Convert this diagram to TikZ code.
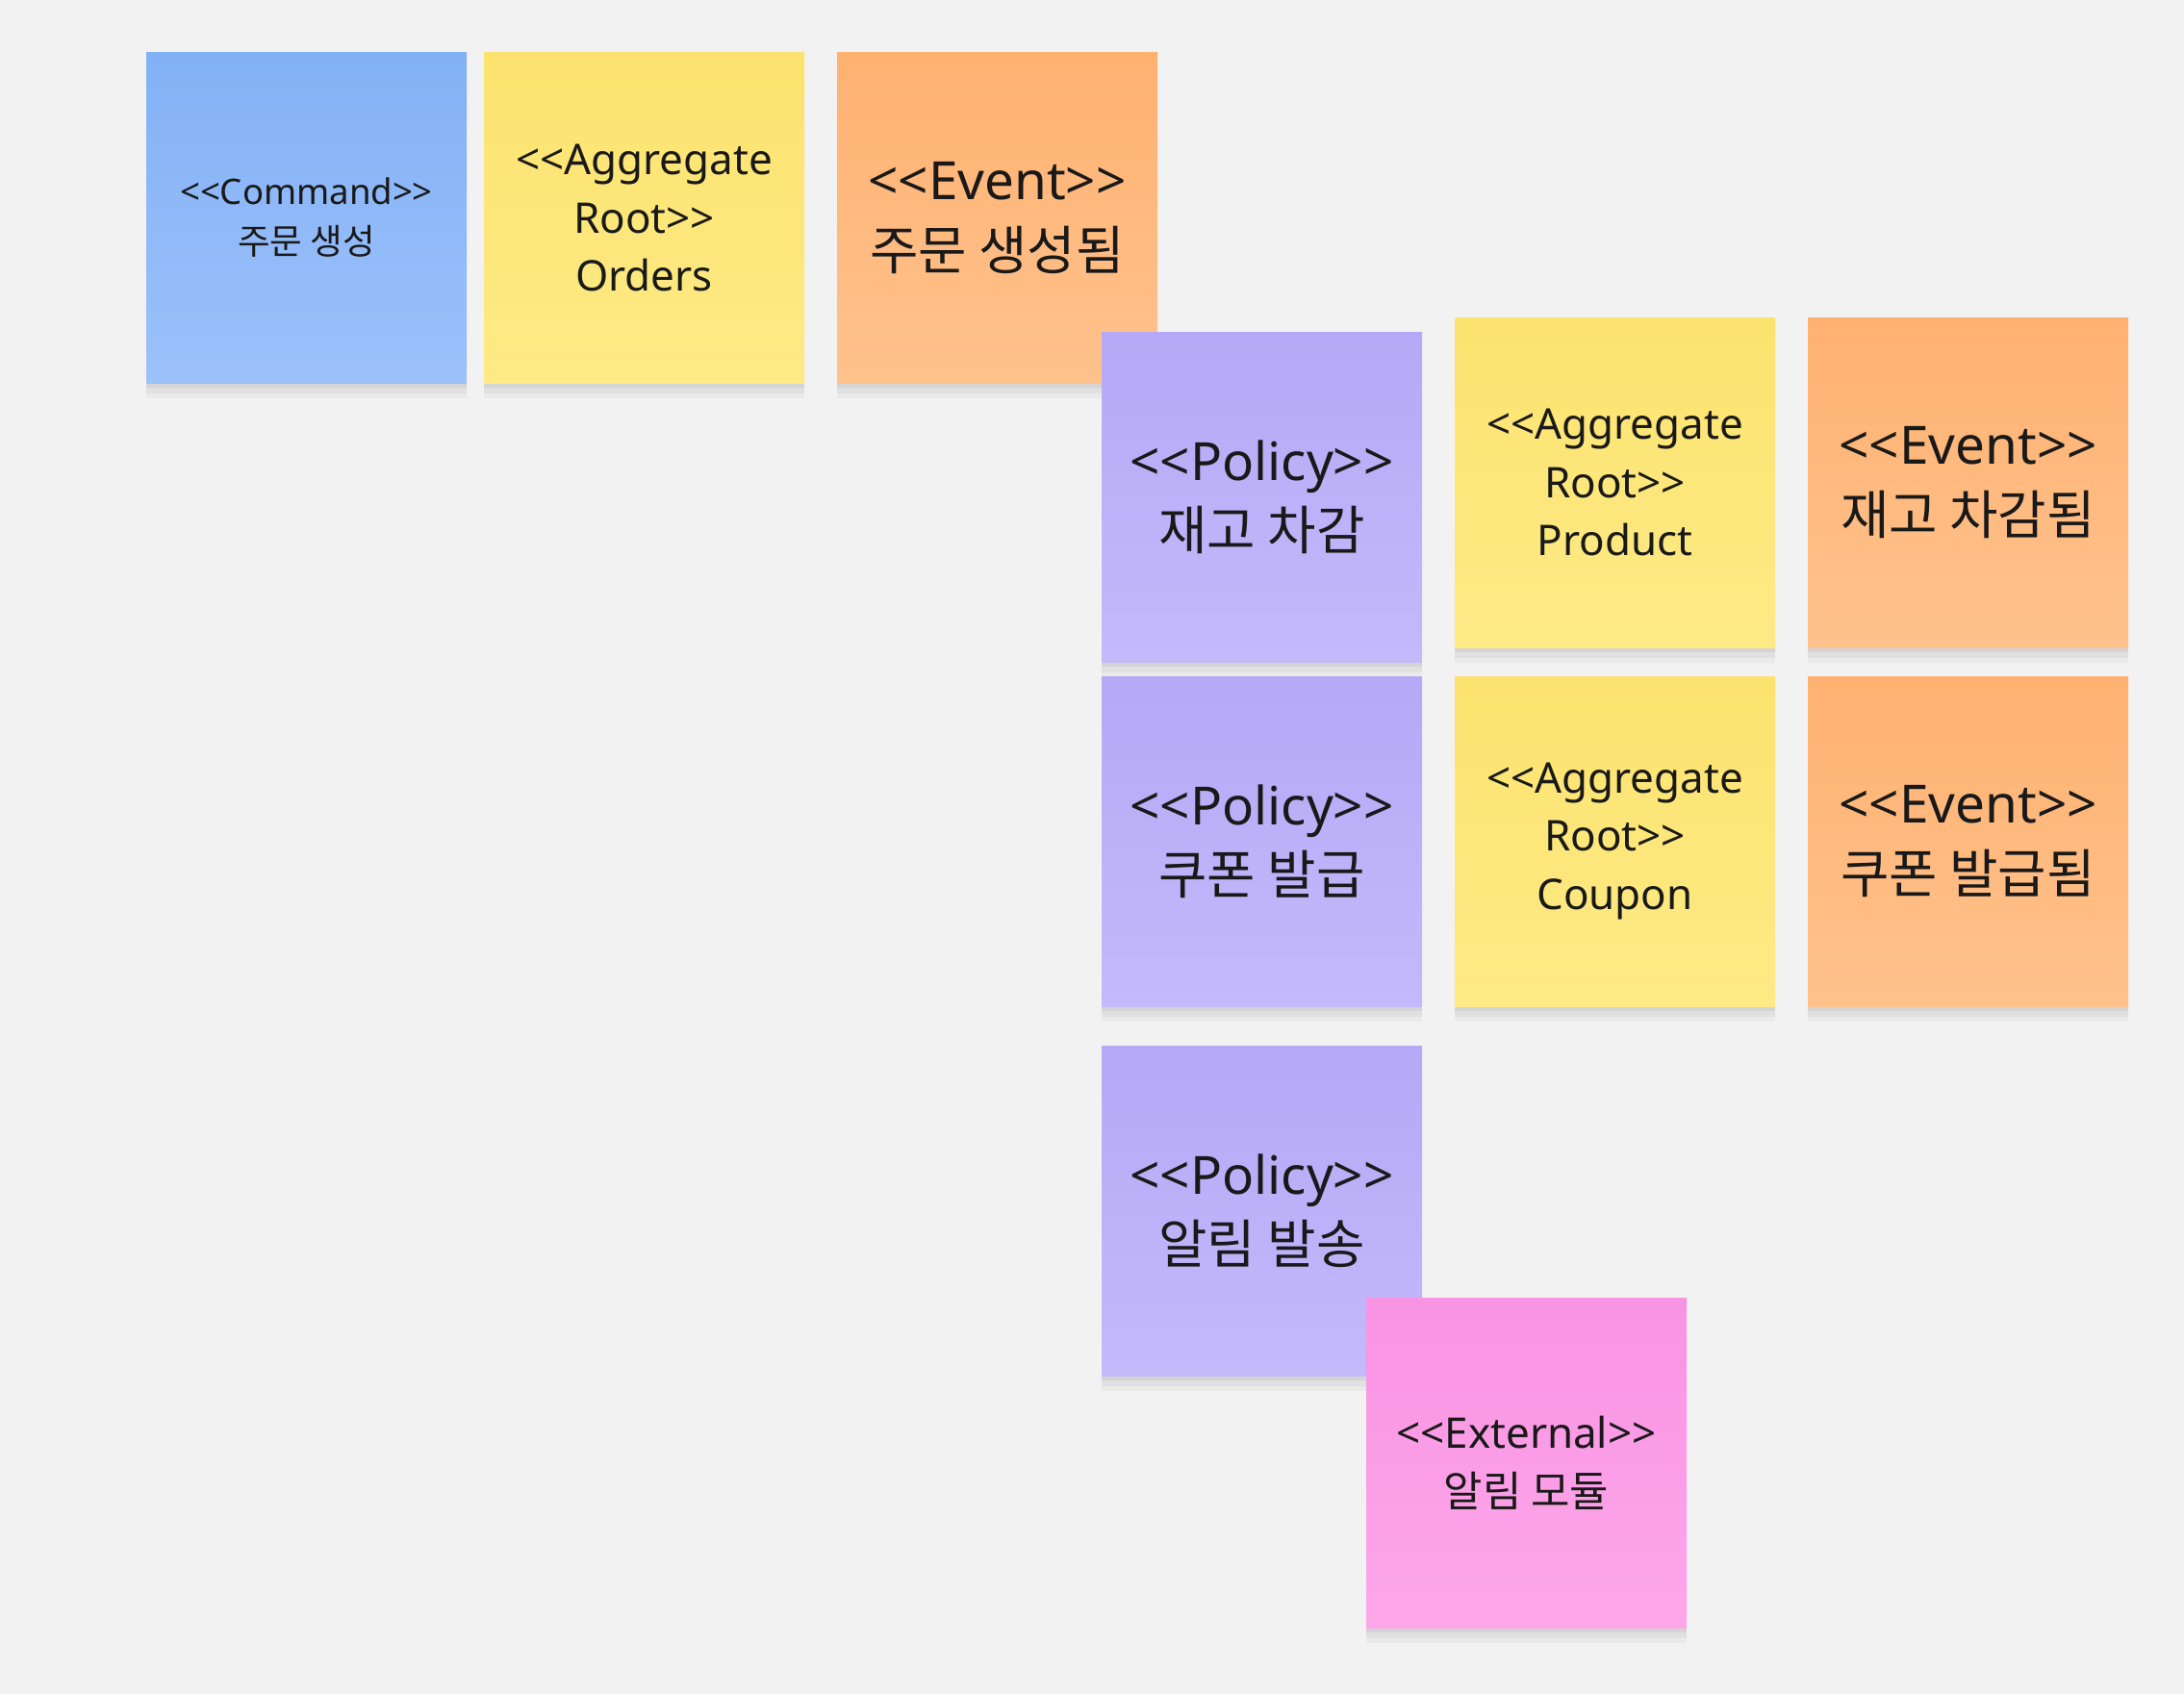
\documentclass[tikz,border=0pt]{standalone}
\usepackage{fontspec}
\setmainfont{Noto Sans}[Ligatures=TeXOff]
\newfontfamily\kr{Noto Sans CJK KR}[Ligatures=TeXOff]
\usetikzlibrary{shadows}

\definecolor{boardbg}{HTML}{F2F2F2}
\definecolor{cmdtop}{HTML}{83B1F6}
\definecolor{cmdbot}{HTML}{9CC1FA}
\definecolor{aggtop}{HTML}{FCE36F}
\definecolor{aggbot}{HTML}{FEEA86}
\definecolor{evttop}{HTML}{FFB171}
\definecolor{evtbot}{HTML}{FFC28C}
\definecolor{poltop}{HTML}{B5A8F6}
\definecolor{polbot}{HTML}{C4B9FB}
\definecolor{exttop}{HTML}{F993E3}
\definecolor{extbot}{HTML}{FDA7EA}

\begin{document}
\begin{tikzpicture}[
    sticky/.style={rectangle, minimum width=3.33cm, minimum height=3.43cm, inner sep=0pt, align=center, text=black!90,
        drop shadow={shadow xshift=0pt, shadow yshift=-4.5pt, opacity=0.03, fill=black},
        drop shadow={shadow xshift=0pt, shadow yshift=-3pt, opacity=0.04, fill=black},
        drop shadow={shadow xshift=0pt, shadow yshift=-1.5pt, opacity=0.05, fill=black}},
    command/.style={sticky, top color=cmdtop, bottom color=cmdbot, font=\fontsize{10.4}{14.8}\selectfont},
    aggregate/.style={sticky, top color=aggtop, bottom color=aggbot, font=\fontsize{12.5}{17.3}\selectfont},
    event/.style={sticky, top color=evttop, bottom color=evtbot, font=\fontsize{15.6}{20.6}\selectfont},
    policy/.style={sticky, top color=poltop, bottom color=polbot, font=\fontsize{15.6}{20.6}\selectfont},
    external/.style={sticky, top color=exttop, bottom color=extbot, font=\fontsize{12.5}{17.3}\selectfont}
]
\fill[boardbg] (0,0) rectangle (22.7,-17.61);
\useasboundingbox (0,0) rectangle (22.7,-17.61);

% order flow
\node[command] (createOrder) at (3.185,-2.265) {<<Command>>\\{\kr 주문 생성}};
\node[aggregate] (orders) at (6.695,-2.265) {<<Aggregate\\Root>>\\Orders};
\node[event] (orderCreated) at (10.365,-2.265) {<<Event>>\\{\kr 주문 생성됨}};

% reactions
\node[policy] (reduceStock) at (13.115,-5.165) {<<Policy>>\\{\kr 재고 차감}};
\node[aggregate] (product) at (16.785,-5.015) {<<Aggregate\\Root>>\\Product};
\node[event] (stockReduced) at (20.455,-5.015) {<<Event>>\\{\kr 재고 차감됨}};

\node[policy] (issueCoupon) at (13.115,-8.745) {<<Policy>>\\{\kr 쿠폰 발급}};
\node[aggregate] (coupon) at (16.785,-8.745) {<<Aggregate\\Root>>\\Coupon};
\node[event] (couponIssued) at (20.455,-8.745) {<<Event>>\\{\kr 쿠폰 발급됨}};

\node[policy] (sendNotice) at (13.115,-12.585) {<<Policy>>\\{\kr 알림 발송}};
\node[external] (noticeModule) at (15.865,-15.205) {<<External>>\\{\kr 알림 모듈}};
\end{tikzpicture}
\end{document}
